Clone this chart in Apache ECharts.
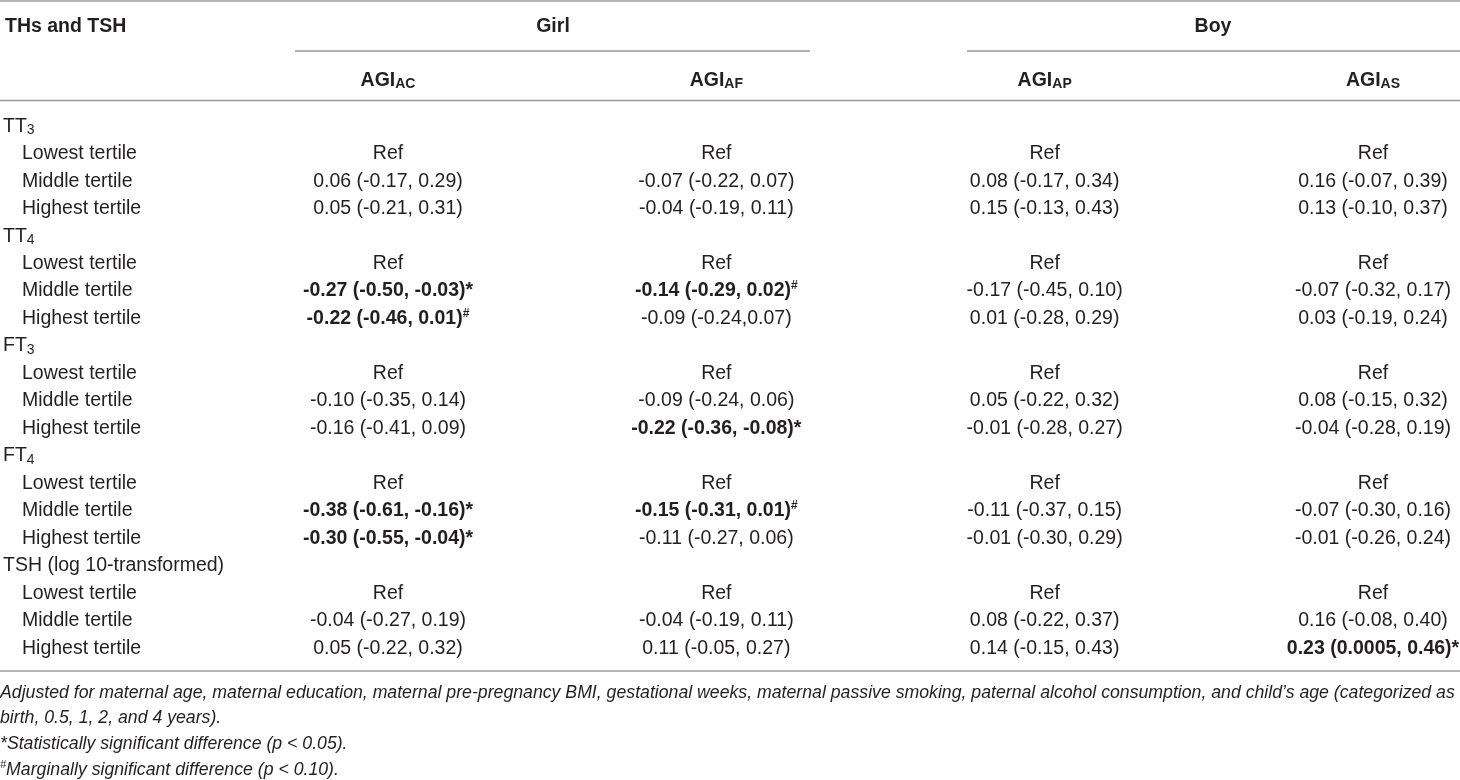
<!DOCTYPE html>
<html lang="en">

<head>
    <meta charset="UTF-8">
    <title>THs and TSH vs AGI</title>
    <style>
        body {
            margin: 0px;
            padding: 0px;
            background: #ffffff;
        }

        #agiTable {
            width: 1460px;
            height: 780px;
        }
    </style>
</head>

<body>
    <div id="agiTable"></div>
    <script src="https://cdn.jsdelivr.net/npm/echarts@6/dist/echarts.min.js"></script>
    <script>
        // row labels (group headers + tertiles)
        var groups = ['TT3', 'TT4', 'FT3', 'FT4', 'TSH (log 10-transformed)'];
        var tertiles = ['Lowest tertile', 'Middle tertile', 'Highest tertile'];

        // column headers (subscripts of AGI)
        var columns = ['AC', 'AF', 'AP', 'AS'];

        // values per column, 3 per group (lowest, middle, highest); * / # mark bold cells
        var agiAC = [
            'Ref', '0.06 (-0.17, 0.29)', '0.05 (-0.21, 0.31)',
            'Ref', '-0.27 (-0.50, -0.03)*', '-0.22 (-0.46, 0.01)#',
            'Ref', '-0.10 (-0.35, 0.14)', '-0.16 (-0.41, 0.09)',
            'Ref', '-0.38 (-0.61, -0.16)*', '-0.30 (-0.55, -0.04)*',
            'Ref', '-0.04 (-0.27, 0.19)', '0.05 (-0.22, 0.32)'
        ];
        var agiAF = [
            'Ref', '-0.07 (-0.22, 0.07)', '-0.04 (-0.19, 0.11)',
            'Ref', '-0.14 (-0.29, 0.02)#', '-0.09 (-0.24,0.07)',
            'Ref', '-0.09 (-0.24, 0.06)', '-0.22 (-0.36, -0.08)*',
            'Ref', '-0.15 (-0.31, 0.01)#', '-0.11 (-0.27, 0.06)',
            'Ref', '-0.04 (-0.19, 0.11)', '0.11 (-0.05, 0.27)'
        ];
        var agiAP = [
            'Ref', '0.08 (-0.17, 0.34)', '0.15 (-0.13, 0.43)',
            'Ref', '-0.17 (-0.45, 0.10)', '0.01 (-0.28, 0.29)',
            'Ref', '0.05 (-0.22, 0.32)', '-0.01 (-0.28, 0.27)',
            'Ref', '-0.11 (-0.37, 0.15)', '-0.01 (-0.30, 0.29)',
            'Ref', '0.08 (-0.22, 0.37)', '0.14 (-0.15, 0.43)'
        ];
        var agiAS = [
            'Ref', '0.16 (-0.07, 0.39)', '0.13 (-0.10, 0.37)',
            'Ref', '-0.07 (-0.32, 0.17)', '0.03 (-0.19, 0.24)',
            'Ref', '0.08 (-0.15, 0.32)', '-0.04 (-0.28, 0.19)',
            'Ref', '-0.07 (-0.30, 0.16)', '-0.01 (-0.26, 0.24)',
            'Ref', '0.16 (-0.08, 0.40)', '0.23 (0.0005, 0.46)*'
        ];

        var notes = [
            'Adjusted for maternal age, maternal education, maternal pre-pregnancy BMI, gestational weeks, maternal passive smoking, paternal alcohol consumption, and child\u2019s age (categorized as',
            'birth, 0.5, 1, 2, and 4 years).',
            '*Statistically significant difference (p < 0.05).',
            'Marginally significant difference (p < 0.10).'
        ];

        var FONT = '"Liberation Sans", Arial, sans-serif';
        var INK = '#231f20';
        var RULE = '#9a9a9a';
        var FS = 19.5;     // body font size
        var NOTE = 17.7;   // footnote font size

        drawTable()

        function drawTable() {
            var chart = echarts.init(document.getElementById('agiTable'));

            // build rows: key "g|label" keeps categories unique
            var rowKeys = [];
            groups.forEach(function (g) {
                rowKeys.push(g + '|' + g);
                tertiles.forEach(function (t) { rowKeys.push(g + '|' + t); });
            });

            var colValues = [agiAC, agiAF, agiAP, agiAS];
            var cells = [];
            colValues.forEach(function (vals, c) {
                vals.forEach(function (v, i) {
                    var row = Math.floor(i / 3) * 4 + (i % 3) + 1;
                    cells.push([c, row, v]);
                });
            });

            function cellText(s) {
                var m = s.match(/^(.*?)([*#])$/);
                if (!m) return '{n|' + s + '}';
                if (m[2] === '*') return '{b|' + m[1] + '*}';
                return '{b|' + m[1] + '}{sup|#}';
            }

            var option = {
                animation: false,
                grid: { left: 388, right: 87, top: 112.5, bottom: 118 },
                xAxis: {
                    type: 'category',
                    position: 'top',
                    boundaryGap: false,
                    data: columns,
                    axisLine: { show: false },
                    axisTick: { show: false },
                    splitLine: { show: false },
                    axisLabel: {
                        interval: 0,
                        margin: 21,
                        formatter: function (v) { return '{m|AGI}{sub|' + v + '}'; },
                        rich: {
                            m: { fontFamily: FONT, fontSize: FS, fontWeight: 'bold', color: INK, lineHeight: 22 },
                            sub: { fontFamily: FONT, fontSize: 14, fontWeight: 'bold', color: INK, lineHeight: 12, verticalAlign: 'bottom' }
                        }
                    }
                },
                yAxis: {
                    type: 'category',
                    inverse: true,
                    data: rowKeys,
                    axisLine: { show: false },
                    axisTick: { show: false },
                    splitLine: { show: false },
                    axisLabel: {
                        interval: 0,
                        align: 'left',
                        margin: 385,
                        formatter: function (key) {
                            var v = key.split('|')[1];
                            var m = v.match(/^(TT|FT)(\d)$/);
                            if (m) return '{g|' + m[1] + '}{sub|' + m[2] + '}';
                            if (tertiles.indexOf(v) >= 0) return '{ind|' + v + '}';
                            return '{g|' + v + '}';
                        },
                        rich: {
                            g: { fontFamily: FONT, fontSize: FS, color: INK, lineHeight: 22 },
                            sub: { fontFamily: FONT, fontSize: 14, color: INK, lineHeight: 12, verticalAlign: 'bottom' },
                            ind: { fontFamily: FONT, fontSize: FS, color: INK, lineHeight: 22, padding: [0, 0, 0, 19] }
                        }
                    }
                },
                series: [{
                    type: 'custom',
                    data: cells.map(function (c) { return [c[0], c[1]]; }),
                    renderItem: function (params, api) {
                        var p = api.coord([api.value(0), api.value(1)]);
                        return {
                            type: 'text',
                            x: p[0],
                            y: p[1],
                            style: {
                                text: cellText(cells[params.dataIndex][2]),
                                align: 'center',
                                verticalAlign: 'middle',
                                fill: INK,
                                fontFamily: FONT,
                                fontSize: FS,
                                rich: {
                                    n: { fontFamily: FONT, fontSize: FS, fill: INK, lineHeight: 22 },
                                    b: { fontFamily: FONT, fontSize: FS, fontWeight: 'bold', fill: INK, lineHeight: 22 },
                                    sup: { fontFamily: FONT, fontSize: 12, fontWeight: 'bold', fill: INK, lineHeight: 15, verticalAlign: 'top' }
                                }
                            }
                        };
                    }
                }],
                graphic: [
                    // rules
                    { type: 'line', shape: { x1: 0, y1: 1, x2: 1460, y2: 1 }, style: { stroke: RULE, lineWidth: 1.6 } },
                    { type: 'line', shape: { x1: 295, y1: 51, x2: 810, y2: 51 }, style: { stroke: RULE, lineWidth: 1.6 } },
                    { type: 'line', shape: { x1: 967, y1: 51, x2: 1460, y2: 51 }, style: { stroke: RULE, lineWidth: 1.6 } },
                    { type: 'line', shape: { x1: 0, y1: 100.5, x2: 1460, y2: 100.5 }, style: { stroke: RULE, lineWidth: 1.6 } },
                    { type: 'line', shape: { x1: 0, y1: 671, x2: 1460, y2: 671 }, style: { stroke: RULE, lineWidth: 1.6 } },
                    // top header
                    {
                        type: 'text', x: 5, y: 27,
                        style: { text: 'THs and TSH', fill: INK, font: 'bold ' + FS + 'px ' + FONT, align: 'left', verticalAlign: 'middle' }
                    },
                    {
                        type: 'text', x: 553, y: 27,
                        style: { text: 'Girl', fill: INK, font: 'bold ' + FS + 'px ' + FONT, align: 'center', verticalAlign: 'middle' }
                    },
                    {
                        type: 'text', x: 1213, y: 27,
                        style: { text: 'Boy', fill: INK, font: 'bold ' + FS + 'px ' + FONT, align: 'center', verticalAlign: 'middle' }
                    },
                    // footnotes
                    {
                        type: 'text', x: 0, y: 693,
                        style: { text: notes[0], fill: INK, font: 'italic ' + NOTE + 'px ' + FONT, align: 'left', verticalAlign: 'middle' }
                    },
                    {
                        type: 'text', x: 0, y: 718,
                        style: { text: notes[1], fill: INK, font: 'italic ' + NOTE + 'px ' + FONT, align: 'left', verticalAlign: 'middle' }
                    },
                    {
                        type: 'text', x: 0, y: 744,
                        style: { text: notes[2], fill: INK, font: 'italic ' + NOTE + 'px ' + FONT, align: 'left', verticalAlign: 'middle' }
                    },
                    {
                        type: 'text', x: 0, y: 770,
                        style: {
                            text: '{sup|#}{it|' + notes[3] + '}',
                            align: 'left', verticalAlign: 'middle',
                            rich: {
                                it: { fontFamily: FONT, fontStyle: 'italic', fontSize: NOTE, fill: INK, lineHeight: 22 },
                                sup: { fontFamily: FONT, fontStyle: 'italic', fontSize: 11, fill: INK, lineHeight: 14, verticalAlign: 'top' }
                            }
                        }
                    }
                ]
            };

            chart.setOption(option);
        }
    </script>
</body>

</html>
